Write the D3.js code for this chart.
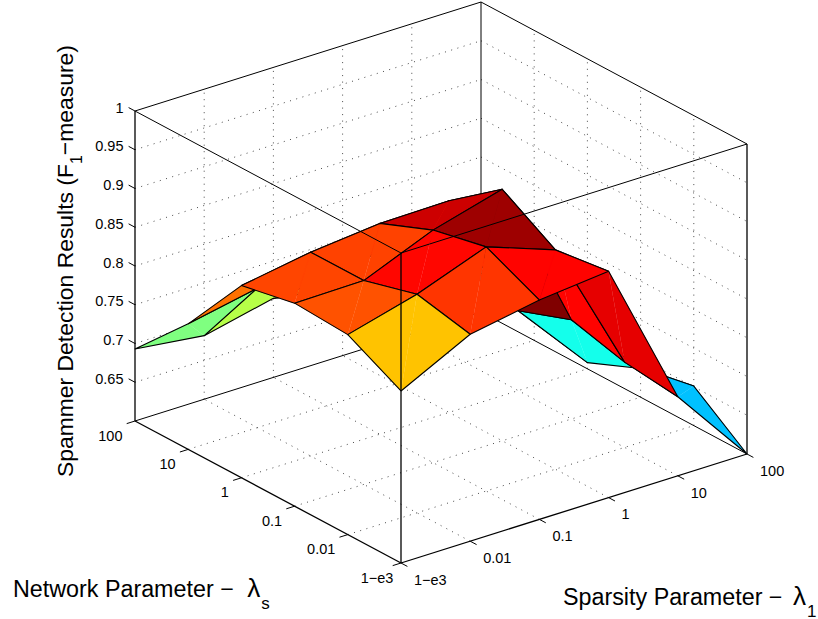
<!DOCTYPE html>
<html>
<head>
<meta charset="utf-8">
<script src="https://cdn.jsdelivr.net/npm/d3@7"></script>
<style>
  html, body { margin: 0; padding: 0; background: #fff; }
  svg { display: block; }
  text { font-family: "Liberation Sans", Arial, sans-serif; fill: #000; }
</style>
</head>
<body>
<div id="chart"></div>
<script>
const lambda1Labels = ['1\u2212e3', '0.01', '0.1', '1', '10', '100'];
const lambdaSLabels = ['1\u2212e3', '0.01', '0.1', '1', '10', '100'];
const zTicks = [0.65, 0.7, 0.75, 0.8, 0.85, 0.9, 0.95, 1];

// F1 by lambda_s (columns, 1-e3 .. 100), one row per lambda_1
const f1At1e3 = [0.822, 0.858, 0.862, 0.848, 0.762, 0.693];
const f1At001 = [0.867, 0.882, 0.863, 0.863, 0.780, 0.682];
const f1At01 = [0.883, 0.915, 0.900, 0.872, 0.750, 0.702];
const f1At1 = [0.892, 0.883, 0.9245, 0.873, 0.790, 0.720];
const f1At10 = [0.702, 0.710, 0.728, 0.703, 0.750, 0.720];
const f1At100 = [0.600, 0.651, 0.637, 0.608, 0.678, 0.700];
const f1Rows = [f1At1e3, f1At001, f1At01, f1At1, f1At10, f1At100];

const width = 818
    , height = 619
    , origin = [401, 563]      // front floor corner
    , alongL1 = [346, -109]    // floor edge towards lambda_1 = 100
    , alongLs = [-266, -142]   // floor edge towards lambda_s = 100
    , boxHeight = 310
    , gridColor = '#4a4a4a'
    ;

const l1Scale = d3.scalePoint().domain(d3.range(6)).range([0, 1]);
const lsScale = d3.scalePoint().domain(d3.range(6)).range([0, 1]);
const zScale = d3.scaleLinear().domain([0.6, 1]).range([0, boxHeight]);

// MATLAB jet, with the colour limits of the data
const jet = d3.scaleLinear()
  .domain([0, 0.125, 0.375, 0.625, 0.875, 1])
  .range(['#00008f', '#0000ff', '#00ffff', '#ffff00', '#ff0000', '#800000']);
const colorT = d3.scaleLinear().domain(d3.extent(f1Rows.flat())).range([0, 1]);
const cellColor = d => jet(colorT(f1Rows[d.i][d.j]));

// u, v in 0..1 along the two floor edges, z in data units
function project(u, v, z) {
  return [
    origin[0] + u * alongL1[0] + v * alongLs[0],
    origin[1] + u * alongL1[1] + v * alongLs[1] - zScale(z)
  ];
}
const vertex = (i, j) => project(l1Scale(i), lsScale(j), f1Rows[i][j]);

const svg = d3.select('#chart').append('svg')
  .attr('width', width)
  .attr('height', height)
  .attr('viewBox', [0, 0, width, height]);

const segment = d3.line();

function drawLines(parent, lines, stroke, strokeWidth, dash) {
  parent.append('g')
      .attr('fill', 'none')
      .attr('stroke', stroke)
      .attr('stroke-width', strokeWidth)
      .attr('stroke-dasharray', dash || null)
    .selectAll('path')
    .data(lines)
    .join('path')
      .attr('d', d => segment(d));
}

// grid on the floor and the two back walls
const gridLines = [];
d3.range(1, 5).forEach((k) => {
  const t = l1Scale(k), s = lsScale(k);
  gridLines.push([project(t, 0, 0.6), project(t, 1, 0.6)]);
  gridLines.push([project(0, s, 0.6), project(1, s, 0.6)]);
  gridLines.push([project(t, 1, 0.6), project(t, 1, 1)]);
  gridLines.push([project(1, s, 0.6), project(1, s, 1)]);
});
zTicks.filter(z => z < 1).forEach((z) => {
  gridLines.push([project(0, 1, z), project(1, 1, z)]);
  gridLines.push([project(1, 1, z), project(1, 0, z)]);
});
drawLines(svg, gridLines, gridColor, 1, '1 5.5');

// back edges of the box go behind the surface
drawLines(svg, [
  [project(0, 1, 0.6), project(1, 1, 0.6)],
  [project(1, 1, 0.6), project(1, 0, 0.6)],
  [project(1, 1, 0.6), project(1, 1, 1)],
  [project(0, 1, 1), project(1, 1, 1)],
  [project(1, 1, 1), project(1, 0, 1)]
], '#000', 1);

// surface cells, back to front. flat colour comes from the lowest corner
const cells = [];
d3.range(4, -1, -1).forEach((i) => {
  d3.range(4, -1, -1).forEach((j) => cells.push({ i, j }));
});

const cell = svg.append('g')
  .selectAll('g')
  .data(cells)
  .join('g');

// two triangles per cell, like the renderer, the seam shows a little
cell.selectAll('path.tri')
  .data(d => [
    { i: d.i, j: d.j, pts: [vertex(d.i, d.j), vertex(d.i + 1, d.j), vertex(d.i + 1, d.j + 1)] },
    { i: d.i, j: d.j, pts: [vertex(d.i, d.j), vertex(d.i + 1, d.j + 1), vertex(d.i, d.j + 1)] }
  ])
  .join('path')
    .attr('class', 'tri')
    .attr('d', d => segment(d.pts) + 'Z')
    .attr('fill', cellColor)
    .attr('stroke', cellColor)
    .attr('stroke-width', 0.25);

cell.append('path')
    .attr('d', d => segment([
      vertex(d.i, d.j), vertex(d.i + 1, d.j), vertex(d.i + 1, d.j + 1), vertex(d.i, d.j + 1)
    ]) + 'Z')
    .attr('fill', 'none')
    .attr('stroke', '#000')
    .attr('stroke-width', 1.1)
    .attr('stroke-linejoin', 'round');

// front edges of the box are on top
drawLines(svg, [
  [project(0, 1, 1), project(0, 0, 1)],
  [project(0, 0, 1), project(1, 0, 1)]
], '#000', 1);
drawLines(svg, [
  [project(0, 0, 0.6), project(0, 0, 1)],
  [project(0, 1, 0.6), project(0, 1, 1)],
  [project(1, 0, 0.6), project(1, 0, 1)],
  [project(0, 0, 0.6), project(0, 1, 0.6)],
  [project(0, 0, 0.6), project(1, 0, 0.6)]
], '#000', 1.3);

// ticks
const tickLen = 0.024;
const ticks = [];
d3.range(6).forEach((k) => {
  const u = l1Scale(k), v = lsScale(k);
  ticks.push([project(u, 0, 0.6), project(u, -tickLen, 0.6)]);
  ticks.push([project(0, v, 0.6), project(-tickLen, v, 0.6)]);
});
zTicks.forEach((z) => {
  ticks.push([project(0, 1, z), project(0, 1 + tickLen, z)]);
});
drawLines(svg, ticks, '#000', 1);

// tick labels
const tickFont = 14.5;

svg.append('g')
    .attr('font-size', tickFont)
    .attr('text-anchor', 'end')
  .selectAll('text')
  .data(zTicks)
  .join('text')
    .attr('x', z => project(0, 1, z)[0] - 11.5)
    .attr('y', z => project(0, 1, z)[1] - 3.5)
    .attr('dy', '0.36em')
    .text(z => d3.format('.3~f')(z));

svg.append('g')
    .attr('font-size', tickFont)
    .attr('text-anchor', 'end')
  .selectAll('text')
  .data(lambdaSLabels)
  .join('text')
    .attr('x', (d, k) => project(0, lsScale(k), 0.6)[0] - (k === 0 ? 7.7 : 12.5))
    .attr('y', (d, k) => project(0, lsScale(k), 0.6)[1] + 14.4)
    .attr('dy', '0.36em')
    .text(d => d);

svg.append('g')
    .attr('font-size', tickFont)
    .attr('text-anchor', 'start')
  .selectAll('text')
  .data(lambda1Labels)
  .join('text')
    .attr('x', (d, k) => project(l1Scale(k), 0, 0.6)[0] + 13)
    .attr('y', (d, k) => project(l1Scale(k), 0, 0.6)[1] + 16.6)
    .attr('dy', '0.36em')
    .text(d => d);

// axis titles
const subFont = 17;

function parameterTitle(x, y, size, name, sub, lambdaDx) {
  const t = svg.append('text')
    .attr('font-size', size)
    .attr('transform', `translate(${x},${y})`);
  t.append('tspan').text(name + ' \u2212 ');
  t.append('tspan').attr('dx', lambdaDx).attr('font-size', size * 1.12).text('\u03bb');
  t.append('tspan').attr('font-size', subFont).attr('dx', 1).attr('dy', 11.5).text(sub);
}

parameterTitle(13, 597, 23.3, 'Network Parameter', 's', 7);
parameterTitle(563, 605, 23.3, 'Sparsity Parameter', '1', 4);

const zTitle = svg.append('text')
  .attr('font-size', 22.9)
  .attr('transform', 'translate(73,477) rotate(-90)');
zTitle.append('tspan').text('Spammer Detection Results (F');
zTitle.append('tspan').attr('font-size', 16).attr('dy', 9).text('1');
zTitle.append('tspan').attr('dy', -9).text('\u2212measure)');
</script>
</body>
</html>
